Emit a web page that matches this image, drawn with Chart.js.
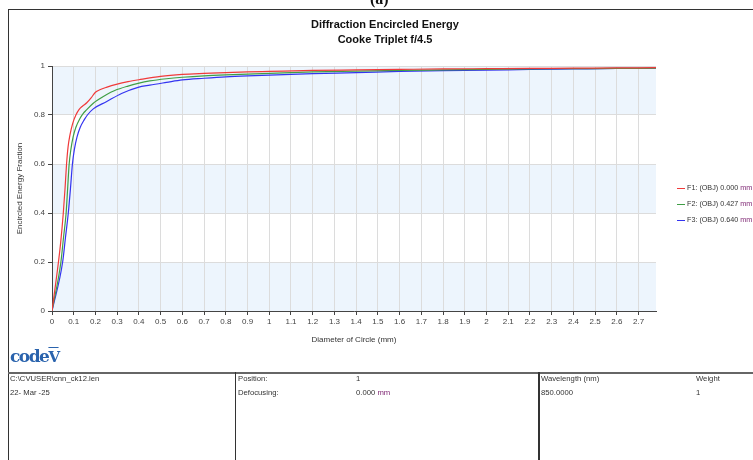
<!DOCTYPE html>
<html>
<head>
<meta charset="utf-8">
<script src="https://cdn.jsdelivr.net/npm/chart.js@4.4.0/dist/chart.umd.min.js"></script>
<style>
    body { margin: 0; background: #fff; font-family: "Liberation Sans", Arial, sans-serif; }
    #wrap { position: relative; width: 753px; height: 460px; overflow: hidden; }
    #chart { position: absolute; left: 0; top: 0; }
    .t { position: absolute; font-size: 7.7px; color: #333; white-space: nowrap; line-height: 10px; }
    .hl { position: absolute; background: #333; }
    .mm { color: #7a1f6e; }
</style>
</head>
<body>
<div id="wrap">
    <canvas id="chart" width="753" height="460"></canvas>

    <!-- cadre et tableau du bas -->
    <div class="t" style="left:370px; top:-10px; font: bold 16px 'Liberation Serif', serif; color:#111;">(a)</div>
    <div class="hl" style="left:8px; top:9px; width:745px; height:1px;"></div>
    <div class="hl" style="left:8px; top:9px; width:1px; height:451px;"></div>
    <div class="hl" style="left:8px; top:372px; width:745px; height:2px; background:#666;"></div>
    <div class="hl" style="left:235px; top:372px; width:1px; height:88px;"></div>
    <div class="hl" style="left:538px; top:372px; width:2px; height:88px;"></div>

    <div class="t" style="left:0; width:770px; top:17px; text-align:center; font-size:11px; font-weight:bold; color:#111; line-height:15px;">Diffraction Encircled Energy<br>Cooke Triplet f/4.5</div>

    <div id="legend"></div>

    <div class="t" style="left:10px; top:346px; font: bold 17px 'DejaVu Serif', serif; color:#2a63ad; letter-spacing:-1.5px; line-height:20px;">code<span style="font-size:15px; text-decoration: overline;">V</span></div>

    <div class="t" style="left:10px; top:374px;">C:\CVUSER\cnn_ck12.len</div>
    <div class="t" style="left:10px; top:388px;">22- Mar -25</div>
    <div class="t" style="left:238px; top:374px;">Position:</div>
    <div class="t" style="left:356px; top:374px;">1</div>
    <div class="t" style="left:238px; top:388px;">Defocusing:</div>
    <div class="t" style="left:356px; top:388px;">0.000 <span class="mm">mm</span></div>
    <div class="t" style="left:541px; top:374px;">Wavelength (nm)</div>
    <div class="t" style="left:541px; top:388px;">850.0000</div>
    <div class="t" style="left:696px; top:374px;">Weight</div>
    <div class="t" style="left:696px; top:388px;">1</div>
</div>

<script>
// Données (diamètre en mm, énergie encerclée)
const seriesNames = ['F1: (OBJ) 0.000', 'F2: (OBJ) 0.427', 'F3: (OBJ) 0.640'];
const seriesColors = ['#f03a3a', '#3f9e45', '#3434f0'];

const f1Diam = [0, 0.029, 0.04, 0.052, 0.06, 0.067, 0.074, 0.083, 0.095, 0.11, 0.125, 0.14, 0.16, 0.18, 0.2, 0.22, 0.25, 0.3, 0.35, 0.4, 0.5, 0.6, 0.7, 0.8, 0.9, 1.0, 1.2, 1.4, 1.6, 1.8, 2.0, 2.2, 2.4, 2.6, 2.78];
const f1Energy = [0, 0.195, 0.28, 0.4, 0.5, 0.6, 0.67, 0.72, 0.765, 0.8, 0.823, 0.836, 0.85, 0.87, 0.893, 0.903, 0.913, 0.926, 0.936, 0.944, 0.958, 0.966, 0.97, 0.973, 0.976, 0.978, 0.982, 0.984, 0.986, 0.988, 0.989, 0.99, 0.991, 0.992, 0.993];

const f2Diam = [0, 0.041, 0.053, 0.065, 0.072, 0.079, 0.087, 0.097, 0.11, 0.128, 0.144, 0.158, 0.19, 0.212, 0.25, 0.289, 0.35, 0.396, 0.45, 0.527, 0.6, 0.7, 0.8, 0.9, 1.0, 1.2, 1.4, 1.6, 1.8, 2.0, 2.2, 2.4, 2.6, 2.78];
const f2Energy = [0, 0.2, 0.3, 0.4, 0.5, 0.6, 0.66, 0.71, 0.75, 0.785, 0.807, 0.82, 0.848, 0.862, 0.883, 0.9, 0.918, 0.929, 0.939, 0.948, 0.954, 0.96, 0.964, 0.967, 0.97, 0.976, 0.979, 0.982, 0.984, 0.986, 0.988, 0.989, 0.99, 0.991];

const f3Diam = [0, 0.049, 0.062, 0.075, 0.085, 0.094, 0.103, 0.115, 0.13, 0.148, 0.163, 0.19, 0.25, 0.32, 0.396, 0.45, 0.527, 0.6, 0.7, 0.8, 0.9, 1.0, 1.1, 1.2, 1.4, 1.6, 1.8, 2.0, 2.2, 2.4, 2.6, 2.78];
const f3Energy = [0, 0.2, 0.3, 0.4, 0.5, 0.6, 0.66, 0.71, 0.75, 0.78, 0.8, 0.825, 0.854, 0.888, 0.913, 0.922, 0.933, 0.943, 0.95, 0.956, 0.96, 0.963, 0.966, 0.969, 0.973, 0.978, 0.981, 0.983, 0.986, 0.988, 0.99, 0.991];

const xMax = 2.78;

function toPoints(xs, ys) {
    return xs.map((x, i) => ({ x: x, y: ys[i] }));
}

const allDiam = [f1Diam, f2Diam, f3Diam];
const allEnergy = [f1Energy, f2Energy, f3Energy];

// Légende à droite
const legend = document.getElementById('legend');
seriesNames.forEach((name, i) => {
    const top = 183 + i * 16;
    legend.innerHTML +=
        '<div class="hl" style="left:677px; top:' + (top + 5) + 'px; width:8px; height:1px; background:' + seriesColors[i] + ';"></div>' +
        '<div class="t" style="left:687px; top:' + top + 'px; font-size:7.2px;">' + name + ' <span class="mm">mm</span></div>';
});

// Bandes de fond alternées
const bandsPlugin = {
    id: 'bands',
    beforeDraw(chart) {
        const { ctx, chartArea, scales } = chart;
        ctx.save();
        for (let v = 0; v < 1; v += 0.4) {
            const y1 = scales.y.getPixelForValue(v);
            const y2 = scales.y.getPixelForValue(Math.min(v + 0.2, 1));
            ctx.fillStyle = '#edf5fd';
            ctx.fillRect(chartArea.left, y2, chartArea.right - chartArea.left, y1 - y2);
        }
        ctx.restore();
    }
};

const ctx = document.getElementById('chart').getContext('2d');
new Chart(ctx, {
    type: 'scatter',
    data: {
        datasets: seriesNames.map((name, i) => ({
            label: name,
            data: toPoints(allDiam[i], allEnergy[i]),
            showLine: true,
            borderColor: seriesColors[i],
            borderWidth: 1.2,
            pointRadius: 0,
            cubicInterpolationMode: 'monotone'
        }))
    },
    options: {
        responsive: false,
        animation: false,
        devicePixelRatio: 1,
        layout: { padding: { left: 10, top: 66, right: 97, bottom: 115 } },
        plugins: { legend: { display: false }, tooltip: { enabled: false } },
        scales: {
            x: {
                type: 'linear',
                min: 0,
                max: xMax,
                afterFit: scale => { scale.height = 34; },
                ticks: {
                    stepSize: 0.1,
                    includeBounds: false,
                    maxRotation: 0,
                    autoSkip: false,
                    padding: 2,
                    color: '#444',
                    font: { size: 8, family: 'Liberation Sans' },
                    callback: v => parseFloat(v.toFixed(1))
                },
                grid: { color: '#dcdcdc', tickColor: '#444', tickLength: 4 },
                border: { color: '#444', width: 1 },
                title: {
                    display: true,
                    text: 'Diameter of Circle (mm)',
                    color: '#333',
                    font: { size: 8, family: 'Liberation Sans' },
                    padding: 0
                }
            },
            y: {
                min: 0,
                max: 1,
                afterFit: scale => { scale.width = 42; },
                ticks: {
                    stepSize: 0.2,
                    padding: 3,
                    color: '#444',
                    font: { size: 8, family: 'Liberation Sans' },
                    callback: v => parseFloat(v.toFixed(1))
                },
                grid: { color: '#dcdcdc', tickColor: '#444', tickLength: 4 },
                border: { color: '#444', width: 1 },
                title: {
                    display: true,
                    text: 'Encircled Energy Fraction',
                    color: '#333',
                    font: { size: 8, family: 'Liberation Sans' },
                    padding: { top: 5, bottom: 0 }
                }
            }
        }
    },
    plugins: [bandsPlugin]
});
</script>
</body>
</html>
